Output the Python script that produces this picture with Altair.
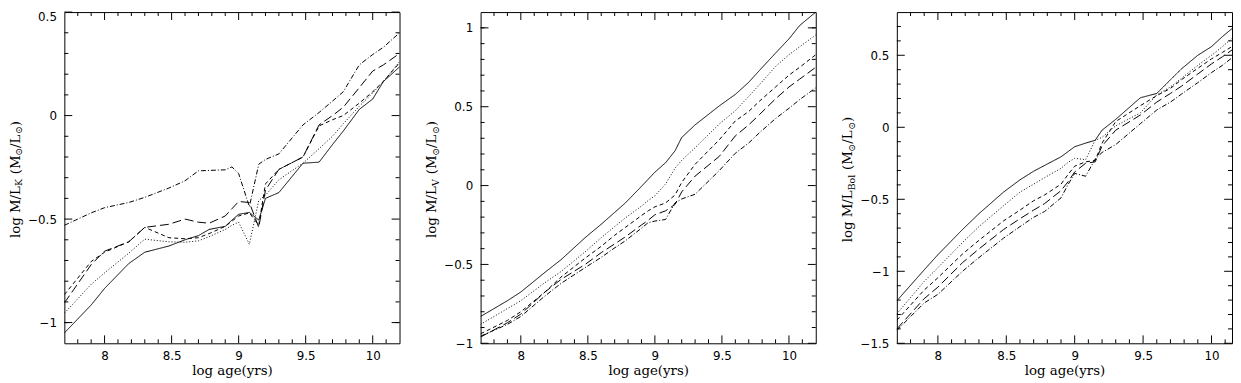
import altair as alt
import pandas as pd

# ---------------- data ----------------
ages = [7.7, 7.9, 8.0, 8.18, 8.3, 8.48, 8.6, 8.7, 8.78, 8.9, 8.95, 9.0,
        9.08, 9.15, 9.2, 9.3, 9.48, 9.6, 9.7, 9.78, 9.9, 10.0, 10.08, 10.2]
series_names = ["model 1", "model 2", "model 3", "model 4", "model 5"]

# log M/L_K
k_s1 = [-1.05, -0.915, -0.835, -0.715, -0.66, -0.63, -0.60, -0.58, -0.55, -0.535, -0.505, -0.477,
        -0.468, -0.505, -0.40, -0.372, -0.23, -0.225, -0.14, -0.075, 0.03, 0.08, 0.165, 0.235]
k_s2 = [-0.955, -0.815, -0.76, -0.665, -0.597, -0.61, -0.612, -0.605, -0.585, -0.55, -0.53, -0.515,
        -0.622, -0.41, -0.385, -0.31, -0.23, -0.16, -0.10, -0.04, 0.045, 0.11, 0.165, 0.26]
k_s3 = [-0.865, -0.705, -0.66, -0.61, -0.54, -0.59, -0.595, -0.59, -0.57, -0.535, -0.51, -0.485,
        -0.47, -0.53, -0.33, -0.26, -0.20, -0.05, -0.02, 0.0, 0.06, 0.115, 0.165, 0.255]
k_s4 = [-0.905, -0.72, -0.655, -0.61, -0.54, -0.525, -0.50, -0.515, -0.52, -0.485, -0.45, -0.415,
        -0.42, -0.54, -0.36, -0.26, -0.20, -0.045, 0.0, 0.04, 0.135, 0.215, 0.245, 0.30]
k_s5 = [-0.53, -0.47, -0.445, -0.42, -0.395, -0.35, -0.315, -0.267, -0.265, -0.262, -0.248, -0.28,
        -0.44, -0.235, -0.212, -0.185, -0.045, 0.015, 0.07, 0.115, 0.245, 0.295, 0.33, 0.40]

# log M/L_V
v_s1 = [-0.83, -0.73, -0.675, -0.55, -0.47, -0.33, -0.245, -0.17, -0.11, -0.005, 0.04, 0.085,
        0.145, 0.22, 0.305, 0.385, 0.505, 0.578, 0.655, 0.73, 0.84, 0.93, 1.015, 1.10]
v_s2 = [-0.88, -0.78, -0.73, -0.615, -0.545, -0.42, -0.33, -0.26, -0.205, -0.13, -0.095, -0.065,
        0.01, 0.11, 0.16, 0.24, 0.39, 0.475, 0.565, 0.64, 0.755, 0.83, 0.88, 0.955]
v_s3 = [-0.94, -0.855, -0.80, -0.675, -0.58, -0.46, -0.385, -0.315, -0.265, -0.19, -0.16, -0.135,
        -0.11, -0.06, 0.02, 0.135, 0.29, 0.41, 0.47, 0.535, 0.625, 0.70, 0.75, 0.83]
v_s4 = [-0.96, -0.87, -0.815, -0.675, -0.595, -0.50, -0.425, -0.37, -0.325, -0.25, -0.22, -0.185,
        -0.16, -0.12, -0.04, 0.06, 0.185, 0.315, 0.385, 0.45, 0.55, 0.625, 0.675, 0.75]
v_s5 = [-0.955, -0.88, -0.83, -0.70, -0.62, -0.52, -0.455, -0.395, -0.35, -0.27, -0.235, -0.225,
        -0.215, -0.11, -0.085, -0.055, 0.095, 0.205, 0.27, 0.335, 0.425, 0.49, 0.545, 0.62]

# log M/L_Bol
b_s1 = [-1.205, -0.99, -0.885, -0.71, -0.60, -0.45, -0.365, -0.305, -0.265, -0.205, -0.17, -0.135,
        -0.11, -0.09, -0.02, 0.055, 0.205, 0.235, 0.33, 0.405, 0.50, 0.56, 0.63, 0.725]
b_s2 = [-1.295, -1.07, -0.975, -0.80, -0.69, -0.545, -0.45, -0.395, -0.35, -0.285, -0.245, -0.215,
        -0.225, -0.09, -0.07, 0.01, 0.10, 0.225, 0.28, 0.34, 0.43, 0.50, 0.56, 0.66]
b_s3 = [-1.34, -1.13, -1.045, -0.88, -0.785, -0.65, -0.575, -0.51, -0.47, -0.395, -0.33, -0.27,
        -0.24, -0.23, -0.11, 0.04, 0.15, 0.22, 0.27, 0.33, 0.41, 0.475, 0.52, 0.59]
b_s4 = [-1.40, -1.19, -1.11, -0.94, -0.845, -0.71, -0.635, -0.575, -0.53, -0.44, -0.38, -0.31,
        -0.25, -0.24, -0.13, -0.02, 0.085, 0.175, 0.235, 0.285, 0.37, 0.44, 0.49, 0.57]
b_s5 = [-1.41, -1.22, -1.16, -1.0, -0.905, -0.77, -0.69, -0.625, -0.585, -0.49, -0.40, -0.32,
        -0.34, -0.22, -0.175, -0.12, 0.025, 0.12, 0.175, 0.23, 0.31, 0.38, 0.43, 0.52]

# axis tick values
x_major = [8.0, 8.5, 9.0, 9.5, 10.0]
x_minor = [7.8, 7.9, 8.1, 8.2, 8.3, 8.4, 8.6, 8.7, 8.8, 8.9, 9.1, 9.2, 9.3, 9.4,
           9.6, 9.7, 9.8, 9.9, 10.1]
k_major = [-1.0, -0.5, 0.0, 0.5]
k_minor = [-1.0, -0.9, -0.8, -0.7, -0.6, -0.4, -0.3, -0.2, -0.1, 0.1, 0.2, 0.3, 0.4]
v_major = [-1.0, -0.5, 0.0, 0.5, 1.0]
v_minor = [-0.9, -0.8, -0.7, -0.6, -0.4, -0.3, -0.2, -0.1, 0.1, 0.2, 0.3, 0.4,
           0.6, 0.7, 0.8, 0.9, 1.0]
b_major = [-1.5, -1.0, -0.5, 0.0, 0.5]
b_minor = [-1.4, -1.3, -1.2, -1.1, -0.9, -0.8, -0.7, -0.6, -0.4, -0.3, -0.2, -0.1,
           0.1, 0.2, 0.3, 0.4, 0.6, 0.7]

x_title = "log age(yrs)"
y_subscripts = ["K", "V", "Bol"]

# ---------------- layout / style ----------------
W, H = 339, 335
SANS = "DejaVu Sans"
SERIF = "DejaVu Serif"
MAIN_FS = 13.5
SUB_FS = 9.5
DASHES = [[1, 0], [1, 2], [4, 3], [9, 4], [5, 2, 1, 2]]
# estimated advance widths (em) used to chain the y-title pieces
EM = {"log M/L": 3.915, "K": 0.80, "V": 0.80, "Bol": 1.70, "(M": 1.38,
      "\u2299": 0.84, "/L": 1.04, ")": 0.39}
GAP_BEFORE = {"(M": 0.32 * MAIN_FS}


def make_panel(values, y_domain, y_major, y_minor, x_domain, sub, flush):
    df = pd.concat([pd.DataFrame({"age": ages, "ml": v, "series": n})
                    for v, n in zip(values, series_names)], ignore_index=True)
    xs = alt.Scale(domain=x_domain, nice=False, zero=False)
    ys = alt.Scale(domain=y_domain, nice=False, zero=False)
    x_axis = alt.Axis(values=x_major, format="~g", ticks=False, tickSize=0,
                      domain=False, grid=False, labelFont=SANS, labelFontSize=12,
                      labelColor="black", labelPadding=7, labelFlush=False,
                      title=x_title, titleFont=SERIF, titleFontSize=MAIN_FS,
                      titleFontWeight="normal", titleColor="black",
                      titleBaseline="alphabetic", titleY=32, titleX=W / 2)
    y_axis = alt.Axis(values=y_major, format="~g", ticks=False, tickSize=0,
                      domain=False, grid=False, labelFont=SANS, labelFontSize=12,
                      labelColor="black", labelPadding=8, labelFlush=flush,
                      title=None)

    lines = alt.Chart(df).mark_line(color="black", strokeWidth=1, clip=True).encode(
        x=alt.X("age:Q", scale=xs, axis=x_axis),
        y=alt.Y("ml:Q", scale=ys, axis=y_axis),
        strokeDash=alt.StrokeDash("series:N", scale=alt.Scale(domain=series_names, range=DASHES),
                                  legend=None),
    )

    layers = [lines]
    for vals, L in [(x_minor, 4), (x_major, 8)]:
        base = alt.Chart(pd.DataFrame({"t": vals})).mark_rule(color="black", strokeWidth=1)
        xenc = alt.X("t:Q", scale=xs, axis=x_axis)
        layers.append(base.encode(x=xenc, y=alt.value(H), y2=alt.value(H - L)))
        layers.append(base.encode(x=xenc, y=alt.value(0), y2=alt.value(L)))
    for vals, L in [(y_minor, 4), (y_major, 8)]:
        base = alt.Chart(pd.DataFrame({"t": vals})).mark_rule(color="black", strokeWidth=1)
        yenc = alt.Y("t:Q", scale=ys, axis=y_axis)
        layers.append(base.encode(y=yenc, x=alt.value(0), x2=alt.value(L)))
        layers.append(base.encode(y=yenc, x=alt.value(W), x2=alt.value(W - L)))

    # y title with subscripts, built from pieces
    pieces = [("log M/L", False), (sub, True), ("(M", False), ("\u2299", True),
              ("/L", False), ("\u2299", True), (")", False)]
    widths = [EM[p] * (SUB_FS if s else MAIN_FS) for p, s in pieces]
    gaps = [GAP_BEFORE.get(p, 0.0) for p, s in pieces]
    total = sum(widths) + sum(gaps)
    anchor = H / 2 + 2 + total / 2 - widths[0]
    base_x = -45
    one = pd.DataFrame({"t": [0]})
    cum = 0.0
    for i, (p, s) in enumerate(pieces):
        if i == 0:
            ypos, al = anchor, "right"
        else:
            cum += gaps[i]
            ypos, al = anchor - cum, "left"
            cum += widths[i]
        layers.append(alt.Chart(one).mark_text(
            text=p, angle=270, align=al, baseline="alphabetic",
            font=SERIF, fontSize=SUB_FS if s else MAIN_FS, color="black",
        ).encode(x=alt.value(base_x + (2.5 if s else 0)), y=alt.value(ypos)))

    return alt.layer(*layers).properties(width=W, height=H)


p1 = make_panel([k_s1, k_s2, k_s3, k_s4, k_s5], [-1.1, 0.5], k_major, k_minor, [7.7, 10.2],
                y_subscripts[0], True)
p2 = make_panel([v_s1, v_s2, v_s3, v_s4, v_s5], [-1.0, 1.1], v_major, v_minor, [7.7, 10.2],
                y_subscripts[1], False)
p3 = make_panel([b_s1, b_s2, b_s3, b_s4, b_s5], [-1.5, 0.8], b_major, b_minor, [7.7, 10.15],
                y_subscripts[2], False)

chart = alt.hconcat(p1, p2, p3, spacing=24).properties(
    padding={"left": 0, "top": 0, "right": 0, "bottom": 0},
    background="white",
).configure_view(stroke="black", strokeWidth=1)

chart.save("out.html", embed_options={"renderer": "svg", "actions": False})
